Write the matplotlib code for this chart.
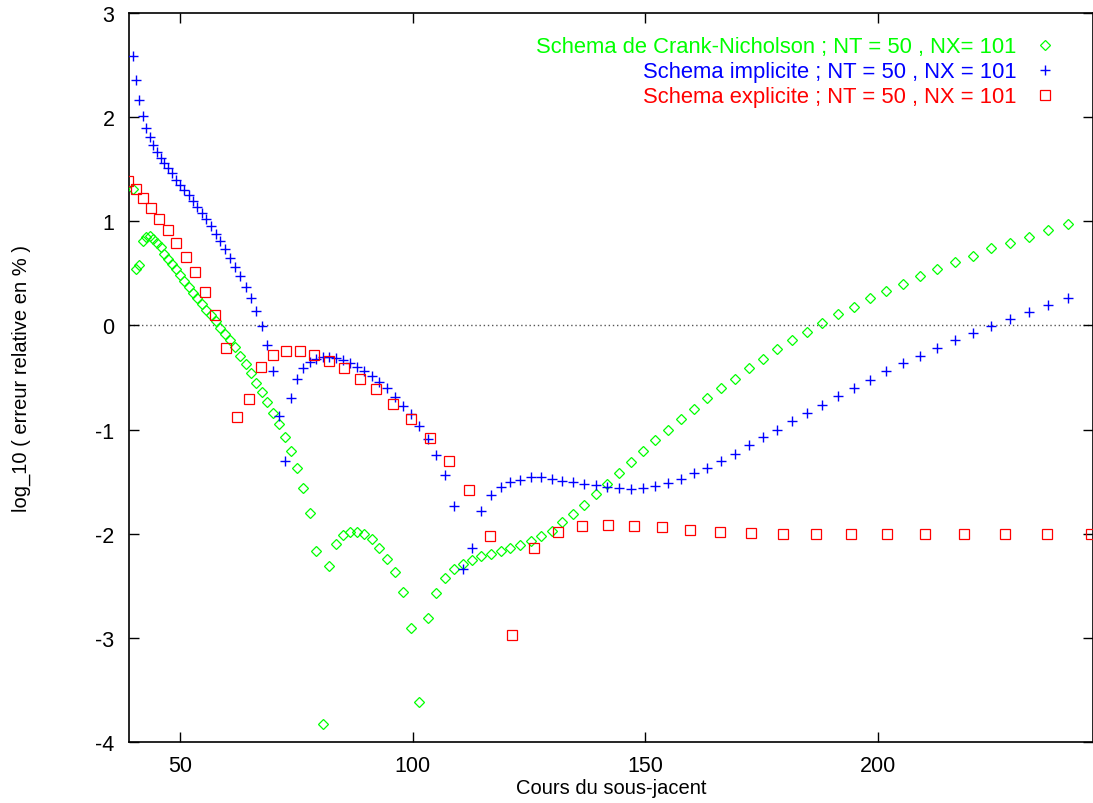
import matplotlib
matplotlib.use("Agg")
import matplotlib.pyplot as plt

plt.rcParams["font.family"] = ["Liberation Sans", "DejaVu Sans"]
plt.rcParams["axes.unicode_minus"] = False

# spot grid shared by the implicit and Crank-Nicholson runs
s_fine = [39.80, 40.51, 41.23, 41.96, 42.71, 43.47, 44.25, 45.03, 45.84, 46.65,
          47.48, 48.33, 49.19, 50.07, 50.96, 51.87, 52.79, 53.73, 54.69, 55.66,
          56.65, 57.66, 58.69, 59.73, 60.80, 61.88, 62.98, 64.10, 65.24, 66.41,
          67.59, 68.79, 70.02, 71.26, 72.53, 73.82, 75.14, 76.48, 77.84, 79.22,
          80.63, 82.07, 83.53, 85.02, 86.53, 88.07, 89.64, 91.24, 92.86, 94.51,
          96.20, 97.91, 99.65, 101.43, 103.23, 105.07, 106.94, 108.84, 110.78, 112.75,
          114.76, 116.80, 118.88, 121.00, 123.15, 125.34, 127.57, 129.84, 132.15, 134.50,
          136.90, 139.33, 141.81, 144.34, 146.91, 149.52, 152.18, 154.89, 157.65, 160.46,
          163.31, 166.22, 169.17, 172.19, 175.25, 178.37, 181.54, 184.77, 188.06, 191.41,
          194.82, 198.28, 201.81, 205.40, 209.06, 212.78, 216.57, 220.42, 224.34, 228.34,
          232.40, 236.54, 240.75]

err_cn = [1.31, 0.54, 0.58, 0.81, 0.85, 0.86, 0.83, 0.79, 0.75, 0.69,
          0.64, 0.59, 0.54, 0.48, 0.43, 0.37, 0.31, 0.26, 0.21, 0.15,
          0.10, 0.04, -0.02, -0.08, -0.14, -0.21, -0.29, -0.37, -0.46, -0.55,
          -0.64, -0.74, -0.84, -0.95, -1.07, -1.21, -1.37, -1.56, -1.80, -2.17,
          -3.83, -2.31, -2.10, -2.01, -1.98, -1.98, -2.00, -2.05, -2.14, -2.24,
          -2.37, -2.56, -2.91, -3.62, -2.81, -2.57, -2.43, -2.34, -2.29, -2.25,
          -2.21, -2.19, -2.17, -2.14, -2.11, -2.07, -2.02, -1.97, -1.89, -1.81,
          -1.72, -1.62, -1.52, -1.42, -1.31, -1.21, -1.10, -1.00, -0.90, -0.80,
          -0.70, -0.60, -0.51, -0.41, -0.32, -0.23, -0.14, -0.06, 0.02, 0.11,
          0.18, 0.26, 0.33, 0.40, 0.47, 0.54, 0.61, 0.67, 0.74, 0.79,
          0.85, 0.92, 0.97]

err_impl = [2.59, 2.36, 2.16, 2.01, 1.90, 1.81, 1.73, 1.67, 1.61, 1.56,
            1.51, 1.46, 1.40, 1.35, 1.30, 1.25, 1.19, 1.14, 1.08, 1.02,
            0.95, 0.88, 0.81, 0.73, 0.65, 0.56, 0.47, 0.37, 0.26, 0.14,
            -0.01, -0.19, -0.44, -0.87, -1.30, -0.70, -0.51, -0.41, -0.35, -0.32,
            -0.30, -0.30, -0.31, -0.33, -0.36, -0.40, -0.44, -0.49, -0.54, -0.60,
            -0.69, -0.77, -0.85, -0.97, -1.09, -1.24, -1.44, -1.73, -2.34, -2.14,
            -1.78, -1.63, -1.55, -1.50, -1.48, -1.46, -1.46, -1.47, -1.49, -1.50,
            -1.52, -1.53, -1.55, -1.56, -1.57, -1.56, -1.54, -1.51, -1.47, -1.42,
            -1.37, -1.30, -1.23, -1.15, -1.07, -1.00, -0.92, -0.84, -0.76, -0.68,
            -0.60, -0.52, -0.44, -0.36, -0.29, -0.22, -0.14, -0.07, -0.01, 0.06,
            0.13, 0.20, 0.26]

# explicit scheme grid (coarser)
s_coarse = [38.90, 40.46, 42.07, 43.76, 45.51, 47.33, 49.22, 51.19, 53.24, 55.37,
            57.58, 59.89, 62.28, 64.77, 67.36, 70.06, 72.86, 75.78, 78.81, 81.96,
            85.24, 88.65, 92.19, 95.88, 99.72, 103.70, 107.85, 112.16, 116.65, 121.32,
            126.17, 131.22, 136.46, 141.92, 147.60, 153.50, 159.64, 166.03, 172.67, 179.58,
            186.76, 194.23, 202.00, 210.08, 218.48, 227.22, 236.31, 245.76]

err_expl = [1.39, 1.31, 1.22, 1.13, 1.02, 0.92, 0.79, 0.66, 0.51, 0.32,
            0.10, -0.22, -0.88, -0.71, -0.40, -0.285, -0.25, -0.25, -0.285, -0.34,
            -0.41, -0.51, -0.61, -0.75, -0.90, -1.08, -1.30, -1.585, -2.02, -2.97,
            -2.14, -1.98, -1.93, -1.92, -1.93, -1.94, -1.96, -1.98, -1.99, -2.00,
            -2.00, -2.00, -2.00, -2.00, -2.00, -2.00, -2.00, -2.00]

labels = ["Schema de Crank-Nicholson ; NT = 50 , NX= 101",
          "Schema implicite ; NT = 50 , NX = 101",
          "Schema explicite ; NT = 50 , NX = 101"]
colors = ["#00ff00", "#0000ff", "#ff0000"]

W, H = 1093, 804
fig = plt.figure(figsize=(W / 100, H / 100), dpi=100)
ax = fig.add_axes([129 / W, 61 / H, (W - 129) / W, (743 - 14) / H])

ax.axhline(0, color="#555555", lw=1.0, ls=(0, (1, 2)), zorder=1)

ax.plot(s_fine, err_cn, ls="none", marker="D", ms=5.2, mfc="none",
        mec=colors[0], mew=0.9, label=labels[0], zorder=3)
ax.plot(s_fine, err_impl, ls="none", marker="+", ms=7.5,
        mec=colors[1], mew=1.0, label=labels[1], zorder=3)
ax.plot(s_coarse, err_expl, ls="none", marker="s", ms=7.6, mfc="none",
        mec=colors[2], mew=0.9, label=labels[2], zorder=3)

ax.set_xlim(39.04, 246.2)
ax.set_ylim(-4, 3)
ax.set_xticks([50, 100, 150, 200])
ax.set_yticks(range(-4, 4))
ax.tick_params(direction="in", length=7, width=1.0, top=True, right=True,
               labelsize=15.5, colors="black")
ax.tick_params(axis="x", pad=9.5)
ax.tick_params(axis="y", pad=10.5)
for sp in ax.spines.values():
    sp.set_linewidth(1.2)

ax.set_xlabel("Cours du sous-jacent", fontsize=14.5, labelpad=1)
ax.set_ylabel("log_10 ( erreur relative en % )", fontsize=14.5, labelpad=46)

ax.legend(loc="upper right", bbox_to_anchor=(0.971, 0.968), frameon=False,
          markerfirst=False, fontsize=15.8, labelcolor=colors,
          handlelength=1.8, handletextpad=0.4, labelspacing=0.18,
          borderpad=0, borderaxespad=0)

fig.savefig("out.png", dpi=100)
